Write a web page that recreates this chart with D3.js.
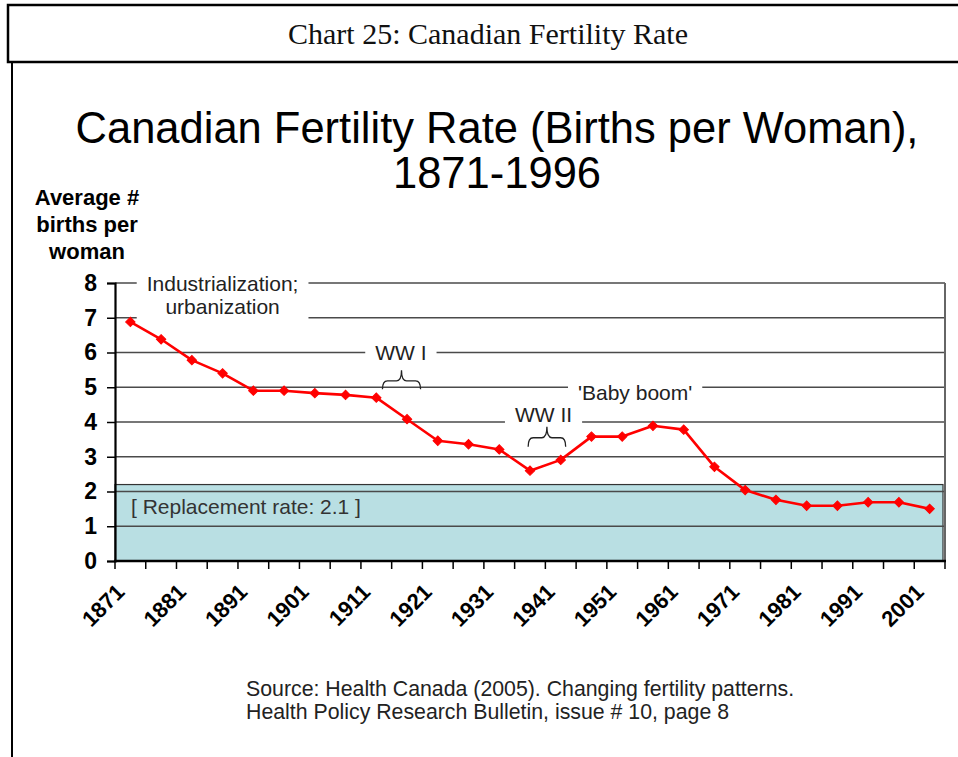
<!DOCTYPE html>
<html>
<head>
<meta charset="utf-8">
<script src="https://cdn.jsdelivr.net/npm/d3@7"></script>
<style>
  html, body { margin: 0; padding: 0; background: #fff; }
  svg { display: block; }
</style>
</head>
<body>
<svg id="chart" width="958" height="757"></svg>
<script>
// ---------- data ----------
const years = ["1871","1876","1881","1886","1891","1896","1901","1906","1911","1916",
               "1921","1926","1931","1936","1941","1946","1951","1956","1961","1966",
               "1971","1976","1981","1986","1991","1996","2001"];
const rates = [6.88, 6.38, 5.78, 5.40, 4.90, 4.90, 4.83, 4.78, 4.70, 4.08,
               3.46, 3.36, 3.21, 2.60, 2.91, 3.58, 3.58, 3.89, 3.78, 2.71,
               2.04, 1.76, 1.59, 1.59, 1.69, 1.69, 1.50];
const xTickLabels = ["1871","1881","1891","1901","1911","1921","1931","1941","1951","1961","1971","1981","1991","2001"];
const yTicks = [0, 1, 2, 3, 4, 5, 6, 7, 8];
const replacementBandTop = 2.2;
const replacementLabel = "[ Replacement rate: 2.1 ]";
const headerTitle = "Chart 25: Canadian Fertility Rate";
const titleLines = ["Canadian Fertility Rate (Births per Woman),", "1871-1996"];
const yTitleLines = ["Average #", "births per", "woman"];
const sourceLines = ["Source: Health Canada (2005). Changing fertility patterns.",
                     "Health Policy Research Bulletin, issue # 10, page 8"];
const annotations = [
  { lines: ["Industrialization;", "urbanization"], year: 1886, value: 7.97, lineGap: 22.7 },
  { lines: ["WW I"], year: 1915, value: 5.98 },
  { lines: ["'Baby boom'"], year: 1953.1, value: 4.83 },
  { lines: ["WW II"], year: 1938.2, value: 4.20 }
];
const braces = [
  { from: 1912.0, to: 1918.2, tip: 5.49, base: 4.94 },
  { from: 1935.7, to: 1941.8, tip: 3.86, base: 3.29 }
];

// ---------- layout ----------
const svg = d3.select("#chart");
const plot = { left: 115, right: 945, top: 283, bottom: 561 };
const SANS = "'Liberation Sans', Arial, sans-serif";

// header box + page frame
svg.append("rect").attr("x", 8).attr("y", 5).attr("width", 980).attr("height", 57)
  .attr("fill", "#fff").attr("stroke", "#000").attr("stroke-width", 2.5);
svg.append("line").attr("x1", 12).attr("x2", 12).attr("y1", 62).attr("y2", 757)
  .attr("stroke", "#000").attr("stroke-width", 2);
svg.append("text").attr("x", 488).attr("y", 44).attr("text-anchor", "middle")
  .attr("font-family", "'Liberation Serif', 'Times New Roman', serif")
  .attr("font-size", 30).attr("fill", "#111").text(headerTitle);

// chart title
svg.selectAll(".title").data(titleLines).join("text")
  .attr("x", 497).attr("y", (d, i) => 143 + i * 45)
  .attr("text-anchor", "middle").attr("font-family", SANS)
  .attr("font-size", 43.5).attr("fill", "#000").text(d => d);

// y title
svg.selectAll(".ytitle").data(yTitleLines).join("text")
  .attr("x", 87).attr("y", (d, i) => 205 + i * 27)
  .attr("text-anchor", "middle").attr("font-family", SANS)
  .attr("font-weight", "bold").attr("font-size", 22).attr("fill", "#000").text(d => d);

// scales
const x = d3.scaleBand().domain(years).range([plot.left, plot.right]).padding(0);
const y = d3.scaleLinear().domain([0, 8]).range([plot.bottom, plot.top]);
const xc = d => x(d) + x.bandwidth() / 2;
const yearPx = d3.scaleLinear().domain([+years[0], +years[years.length - 1]])
  .range([xc(years[0]), xc(years[years.length - 1])]);

// replacement band
svg.append("rect")
  .attr("x", plot.left).attr("y", y(replacementBandTop))
  .attr("width", plot.right - plot.left - 2).attr("height", y(0) - y(replacementBandTop))
  .attr("fill", "#b9dfe3").attr("stroke", "#333").attr("stroke-width", 1.2);

// gridlines
svg.selectAll(".grid").data(yTicks.filter(d => d > 0)).join("line")
  .attr("x1", plot.left).attr("x2", plot.right)
  .attr("y1", d => y(d)).attr("y2", d => y(d))
  .attr("stroke", "#4a4a4a").attr("stroke-width", 1.6);

// right border
svg.append("line").attr("x1", plot.right).attr("x2", plot.right)
  .attr("y1", y(8)).attr("y2", y(0)).attr("stroke", "#666").attr("stroke-width", 2);

// replacement label
svg.append("text").attr("x", 131).attr("y", y(1.56) + 7)
  .attr("font-family", SANS).attr("font-size", 21).attr("fill", "#333")
  .text(replacementLabel);

// y axis
const yAxis = svg.append("g").attr("transform", `translate(${plot.left},0)`)
  .call(d3.axisLeft(y).tickValues(yTicks).tickSize(8).tickPadding(10).tickFormat(d3.format("d")));
yAxis.select(".domain").attr("stroke", "#000").attr("stroke-width", 2.2);
yAxis.selectAll(".tick line").attr("stroke", "#000").attr("stroke-width", 1.5);
yAxis.selectAll(".tick text").attr("font-family", SANS).attr("font-weight", "bold")
  .attr("font-size", 23).attr("fill", "#000");

// x axis line + ticks at band boundaries
svg.append("line").attr("x1", plot.left - 1).attr("x2", plot.right + 1)
  .attr("y1", plot.bottom).attr("y2", plot.bottom)
  .attr("stroke", "#000").attr("stroke-width", 2.5);
const boundaries = years.map(d => x(d)).concat([x(years[years.length - 1]) + x.bandwidth()]);
svg.selectAll(".xtick").data(boundaries).join("line")
  .attr("x1", d => d).attr("x2", d => d)
  .attr("y1", plot.bottom).attr("y2", plot.bottom + 8)
  .attr("stroke", "#000").attr("stroke-width", 1.5);
svg.selectAll(".xlab").data(xTickLabels).join("text")
  .attr("transform", d => `translate(${xc(d) - 10},${plot.bottom + 27}) rotate(-45)`)
  .attr("text-anchor", "end").attr("dy", "0.35em")
  .attr("font-family", SANS).attr("font-weight", "bold").attr("font-size", 22)
  .attr("fill", "#000").text(d => d);

// annotations with white backgrounds
annotations.forEach(a => {
  const g = svg.append("g");
  const cx = yearPx(a.year), cy = y(a.value);
  const gap = a.lineGap || 0;
  g.selectAll("text").data(a.lines).join("text")
    .attr("x", cx).attr("y", (d, i) => cy + 7 + i * gap)
    .attr("text-anchor", "middle").attr("font-family", SANS)
    .attr("font-size", 21).attr("fill", "#222").text(d => d);
  const bb = g.node().getBBox();
  g.insert("rect", "text")
    .attr("x", bb.x - 10).attr("y", bb.y - 4)
    .attr("width", bb.width + 20).attr("height", bb.height + 6)
    .attr("fill", "#fff");
});

// braces
braces.forEach(b => {
  const x0 = yearPx(b.from), x1 = yearPx(b.to), xm = (x0 + x1) / 2;
  const yb = y(b.base), yt = y(b.tip), ym = (yb + yt) / 2 + 1;
  const r = 5;
  const p = d3.path();
  p.moveTo(x0, yb);
  p.quadraticCurveTo(x0, ym, x0 + r, ym);
  p.lineTo(xm - r, ym);
  p.quadraticCurveTo(xm, ym, xm, yt);
  p.quadraticCurveTo(xm, ym, xm + r, ym);
  p.lineTo(x1 - r, ym);
  p.quadraticCurveTo(x1, ym, x1, yb);
  svg.append("path").attr("d", p.toString()).attr("fill", "none")
    .attr("stroke", "#222").attr("stroke-width", 1.3);
});

// data line + markers
const line = d3.line().x((d, i) => xc(years[i])).y(d => y(d));
svg.append("path").datum(rates).attr("d", line)
  .attr("fill", "none").attr("stroke", "#ff0000").attr("stroke-width", 2.6)
  .attr("stroke-linejoin", "round");
svg.selectAll(".pt").data(rates).join("path")
  .attr("transform", (d, i) => `translate(${xc(years[i])},${y(d)}) rotate(45)`)
  .attr("d", d3.symbol().type(d3.symbolSquare).size(44))
  .attr("fill", "#ff0000").attr("stroke", "#ff0000").attr("stroke-width", 1);

// source
svg.selectAll(".src").data(sourceLines).join("text")
  .attr("x", 246).attr("y", (d, i) => 696 + i * 23)
  .attr("font-family", SANS).attr("font-size", 21.3).attr("fill", "#222").text(d => d);
</script>
</body>
</html>
